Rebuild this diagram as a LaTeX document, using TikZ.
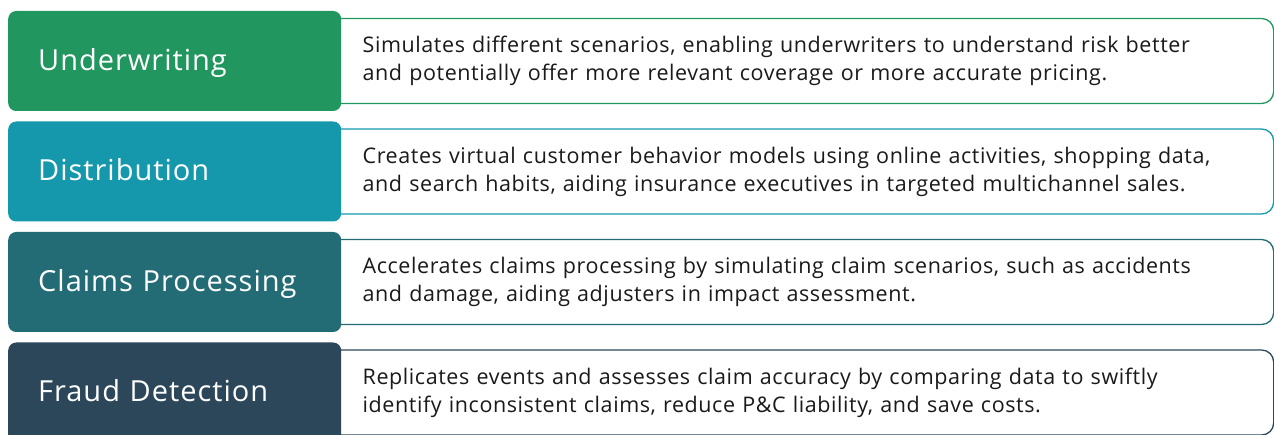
\documentclass[tikz,border=0pt]{standalone}
\usepackage{fontspec}
\setmainfont{Open Sans}
\newfontfamily\areafont[LetterSpace=3.4]{Open Sans}
\newfontfamily\descfont[LetterSpace=2.7]{Open Sans}
\usepackage{tikz}
\definecolor{uwgreen}{HTML}{21965E}
\definecolor{distteal}{HTML}{1598AC}
\definecolor{claimteal}{HTML}{246C75}
\definecolor{frauddark}{HTML}{2C4759}
\definecolor{desctext}{HTML}{1A1A1A}

\begin{document}
\begin{tikzpicture}[x=1pt,y=-1pt,
	areabox/.style={rounded corners=8pt,minimum width=333pt,minimum height=100pt,text width=273pt,text height=22pt,text depth=3pt,inner xsep=30pt,align=left,anchor=west,text=white,font=\areafont\fontsize{29}{34}\selectfont},
	descbox/.style={draw,line width=1.3pt,fill=white,rounded corners=12pt,minimum width=973pt,minimum height=85pt,text width=849pt,inner xsep=62pt,align=left,anchor=west,text=desctext,font=\descfont\fontsize{21.5}{28}\selectfont}]
			\useasboundingbox (0,0) rectangle (1274,435);
			\node[descbox,draw=uwgreen] (uwdesc) at (300,61) {Simulates different scenarios, enabling underwriters to understand risk better\\and potentially offer more relevant coverage or more accurate pricing.};
			\node[descbox,draw=distteal] (distdesc) at (300,171.5) {Creates virtual customer behavior models using online activities, shopping data,\\and search habits, aiding insurance executives in targeted multichannel sales.};
			\node[descbox,draw=claimteal] (claimdesc) at (300,282) {Accelerates claims processing by simulating claim scenarios, such as accidents\\and damage, aiding adjusters in impact assessment.};
			\node[descbox,draw=frauddark] (frauddesc) at (300,392.5) {Replicates events and assesses claim accuracy by comparing data to swiftly\\identify inconsistent claims, reduce P\&C liability, and save costs.};
			\node[areabox,fill=uwgreen] (uw) at (8,61) {Underwriting};
			\node[areabox,fill=distteal] (dist) at (8,171.5) {Distribution};
			\node[areabox,fill=claimteal] (claim) at (8,282) {Claims Processing};
			\node[areabox,fill=frauddark] (fraud) at (8,392.5) {Fraud Detection};
		\end{tikzpicture}
\end{document}
